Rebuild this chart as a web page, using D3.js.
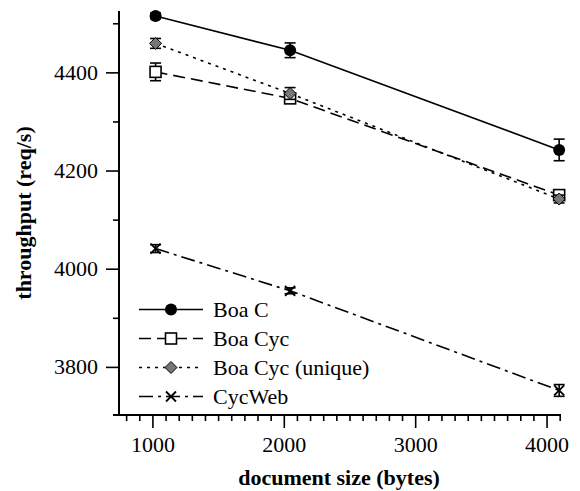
<!DOCTYPE html>
<html>
<head>
<meta charset="utf-8">
<script src="https://cdn.jsdelivr.net/npm/d3@7"></script>
<style>
  body { margin: 0; background: #fff; }
  svg, svg text { font-family: "Liberation Serif", "Times New Roman", Times, "DejaVu Serif", serif; }
  .axis text { font-size: 22px; fill: #000; }
  .axis line { stroke: #000; stroke-width: 1.6; }
  .axis path { display: none; }
</style>
</head>
<body>
<div id="chart"></div>
<script>
// document sizes (bytes)
const sizes = [1024, 2048, 4096];

// throughput (req/s) and error bar half-widths
const boaC = [4515, 4445, 4242];
const boaCErr = [6, 15, 22];
const boaCyc = [4401, 4347, 4150];
const boaCycErr = [18, 6, 10];
const boaCycUnique = [4459, 4357, 4142];
const boaCycUniqueErr = [10, 12, 8];
const cycWeb = [4041, 3955, 3752];
const cycWebErr = [8, 6, 12];

const seriesNames = ["Boa C", "Boa Cyc", "Boa Cyc (unique)", "CycWeb"];

const xMajor = [1000, 2000, 3000, 4000];
const yMajor = [3800, 4000, 4200, 4400];

const series = [
  { name: seriesNames[0], vals: boaC, err: boaCErr, dash: null, marker: "circle" },
  { name: seriesNames[1], vals: boaCyc, err: boaCycErr, dash: "12,6", marker: "square" },
  { name: seriesNames[2], vals: boaCycUnique, err: boaCycUniqueErr, dash: "3,5", marker: "diamond" },
  { name: seriesNames[3], vals: cycWeb, err: cycWebErr, dash: "14,5,3,5", marker: "cross" }
];

const FONT = '"Liberation Serif", "Times New Roman", Times, serif';
const width = 580, height = 491;

const svg = d3.select("#chart").append("svg")
  .attr("width", width)
  .attr("height", height);

const x = d3.scaleLinear().domain([700, 4110]).range([113, 561]);
const y = d3.scaleLinear().domain([3702, 4525]).range([415, 11]);

const axisX = 119;   // where the y axis sits
const axisY = y.range()[0];

// x axis: minor then major ticks
svg.append("g")
  .attr("class", "axis")
  .attr("transform", `translate(0,${axisY})`)
  .call(d3.axisBottom(x)
    .tickValues(d3.range(800, 4101, 100).filter(d => d % 1000 !== 0))
    .tickSize(6).tickFormat(""));

svg.append("g")
  .attr("class", "axis")
  .attr("transform", `translate(0,${axisY})`)
  .call(d3.axisBottom(x).tickValues(xMajor).tickSize(13).tickPadding(8).tickFormat(d3.format("d")))
  .attr("font-family", FONT).attr("font-size", 22);

// y axis
svg.append("g")
  .attr("class", "axis")
  .attr("transform", `translate(${axisX},0)`)
  .call(d3.axisLeft(y).tickValues([3900, 4100, 4300, 4500]).tickSize(6).tickFormat(""));

svg.append("g")
  .attr("class", "axis")
  .attr("transform", `translate(${axisX},0)`)
  .call(d3.axisLeft(y).tickValues(yMajor).tickSize(13).tickPadding(8).tickFormat(d3.format("d")))
  .attr("font-family", FONT).attr("font-size", 22);

// axis lines
svg.append("line")
  .attr("x1", x.range()[0]).attr("x2", x.range()[1])
  .attr("y1", axisY).attr("y2", axisY)
  .attr("stroke", "#000").attr("stroke-width", 2);
svg.append("line")
  .attr("x1", axisX).attr("x2", axisX)
  .attr("y1", y.range()[1]).attr("y2", axisY)
  .attr("stroke", "#000").attr("stroke-width", 2);

// axis titles
svg.append("text")
  .attr("x", (x.range()[0] + x.range()[1]) / 2 + 2)
  .attr("y", 485)
  .attr("text-anchor", "middle")
  .attr("font-family", FONT)
  .attr("font-size", 22)
  .attr("font-weight", "bold")
  .text("document size (bytes)");

svg.append("text")
  .attr("transform", `translate(31,${(y.range()[0] + y.range()[1]) / 2}) rotate(-90)`)
  .attr("text-anchor", "middle")
  .attr("font-family", FONT)
  .attr("font-size", 22)
  .attr("font-weight", "bold")
  .text("throughput (req/s)");

function drawMarker(g, type, cx, cy) {
  if (type === "circle") {
    g.append("circle").attr("cx", cx).attr("cy", cy).attr("r", 6).attr("fill", "#000");
  } else if (type === "square") {
    g.append("rect").attr("x", cx - 5.5).attr("y", cy - 5.5).attr("width", 11).attr("height", 11)
      .attr("fill", "#fff").attr("stroke", "#000").attr("stroke-width", 1.6);
  } else if (type === "diamond") {
    g.append("path").attr("d", `M${cx},${cy - 6}L${cx + 6},${cy}L${cx},${cy + 6}L${cx - 6},${cy}Z`)
      .attr("fill", "#777").attr("stroke", "#000").attr("stroke-width", 1);
  } else {
    g.append("path").attr("d", `M${cx - 5},${cy - 5}L${cx + 5},${cy + 5}M${cx - 5},${cy + 5}L${cx + 5},${cy - 5}`)
      .attr("stroke", "#000").attr("stroke-width", 1.8);
  }
}

const line = d3.line().x(d => x(d[0])).y(d => y(d[1]));

series.forEach(s => {
  const g = svg.append("g");
  const pts = sizes.map((sz, i) => [sz, s.vals[i]]);
  g.append("path")
    .attr("d", line(pts))
    .attr("fill", "none")
    .attr("stroke", "#000")
    .attr("stroke-width", 1.6)
    .attr("stroke-dasharray", s.dash);

  // error bars
  sizes.forEach((sz, i) => {
    const cx = x(sz), top = y(s.vals[i] + s.err[i]), bot = y(s.vals[i] - s.err[i]);
    g.append("line").attr("x1", cx).attr("x2", cx).attr("y1", top).attr("y2", bot)
      .attr("stroke", "#000").attr("stroke-width", 1.6);
    [top, bot].forEach(yy => {
      g.append("line").attr("x1", cx - 5.5).attr("x2", cx + 5.5).attr("y1", yy).attr("y2", yy)
        .attr("stroke", "#000").attr("stroke-width", 1.6);
    });
    drawMarker(g, s.marker, cx, y(s.vals[i]));
  });
});

// legend
const legend = svg.append("g");
series.forEach((s, i) => {
  const ry = 309.5 + i * 29;
  legend.append("line")
    .attr("x1", 139).attr("x2", 203).attr("y1", ry).attr("y2", ry)
    .attr("stroke", "#000").attr("stroke-width", 1.6)
    .attr("stroke-dasharray", s.dash);
  drawMarker(legend, s.marker, 171, ry);
  legend.append("text")
    .attr("x", 213).attr("y", ry + 7.5)
    .attr("font-family", FONT)
    .attr("font-size", 22)
    .text(s.name);
});
</script>
</body>
</html>
